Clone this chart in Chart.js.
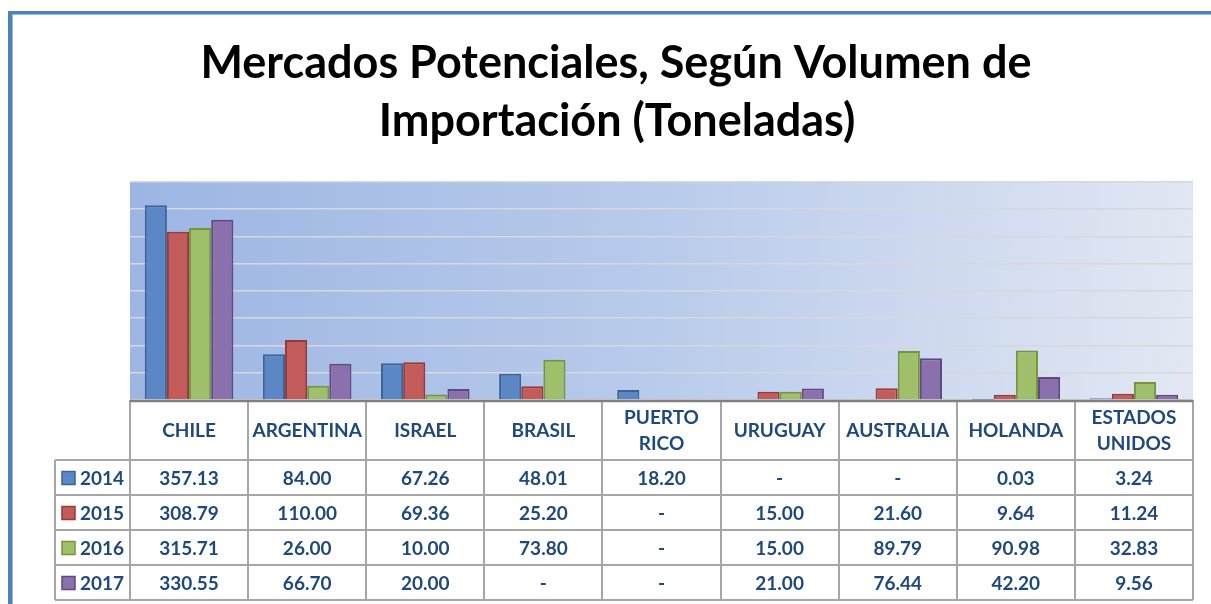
<!DOCTYPE html>
<html>
<head>
<meta charset="utf-8">
<script src="https://cdn.jsdelivr.net/npm/chart.js@4.4.1/dist/chart.umd.min.js"></script>
<style>
html,body{margin:0;padding:0;background:#fff;}
canvas{display:block;}
</style>
</head>
<body>
<canvas id="c" width="1211" height="604"></canvas>
<script>
const titleLines = ['Mercados Potenciales, Según Volumen de', 'Importación (Toneladas)'];
const categories = [['CHILE'], ['ARGENTINA'], ['ISRAEL'], ['BRASIL'], ['PUERTO', 'RICO'], ['URUGUAY'], ['AUSTRALIA'], ['HOLANDA'], ['ESTADOS', 'UNIDOS']];
const seriesNames = ['2014', '2015', '2016', '2017'];
const v2014 = [357.13, 84.00, 67.26, 48.01, 18.20, null, null, 0.03, 3.24];
const v2015 = [308.79, 110.00, 69.36, 25.20, null, 15.00, 21.60, 9.64, 11.24];
const v2016 = [315.71, 26.00, 10.00, 73.80, null, 15.00, 89.79, 90.98, 32.83];
const v2017 = [330.55, 66.70, 20.00, null, null, 21.00, 76.44, 42.20, 9.56];
const yMax = 400;
const yStep = 50;

const fills = ['#5b87c5', '#c25b5a', '#9fbf6a', '#8a70ac'];
const borders = ['#3a6598', '#983a38', '#76943e', '#5f4a80'];
const seriesValues = [v2014, v2015, v2016, v2017];
const textBlue = '#1f497d';
const FONT = 'Lato, "Open Sans", sans-serif';

const ROW_TOP = 400, HEADER_BOTTOM = 460, ROW_H = 35, LEG_LEFT = 55;

const decor = {
  id: 'decor',
  beforeDraw(chart) {
    const {ctx, chartArea: a} = chart;
    ctx.save();
    const g = ctx.createLinearGradient(a.left, a.top, a.right, a.top + 60);
    g.addColorStop(0, '#9cb5e3');
    g.addColorStop(0.5, '#b9cbeb');
    g.addColorStop(1, '#e2e7f3');
    ctx.fillStyle = g;
    ctx.fillRect(a.left, a.top, a.right - a.left, a.bottom - a.top);
    ctx.restore();
  },
  afterDraw(chart) {
    const {ctx, chartArea: a} = chart;
    const xs = chart.scales.x;
    ctx.save();
    // frame
    ctx.fillStyle = '#4f81bd';
    ctx.fillRect(8, 11, 1211, 3);
    ctx.fillRect(8, 11, 4, 604);
    ctx.fillStyle = '#9bb8df';
    ctx.fillRect(12, 14, 1211, 1);
    ctx.fillRect(12, 14, 1, 604);

    // title
    ctx.fillStyle = '#000';
    ctx.font = 'bold 45px ' + FONT;
    ctx.textAlign = 'center';
    ctx.textBaseline = 'alphabetic';
    ctx.fillText(titleLines[0], 616, 78);
    ctx.fillText(titleLines[1], 617, 136);

    // table geometry
    const n = categories.length;
    const step = xs.getPixelForValue(1) - xs.getPixelForValue(0);
    const left = a.left, right = a.right;
    const tableBottom = HEADER_BOTTOM + ROW_H * seriesNames.length;

    ctx.strokeStyle = '#a6a6a6';
    ctx.lineWidth = 2;
    ctx.beginPath();
    for (let i = 0; i <= n; i++) {
      const x = Math.round(xs.getPixelForValue(i) - step / 2);
      ctx.moveTo(x, ROW_TOP); ctx.lineTo(x, tableBottom);
    }
    ctx.moveTo(LEG_LEFT, HEADER_BOTTOM); ctx.lineTo(LEG_LEFT, tableBottom);
    for (let r = 0; r <= seriesNames.length; r++) {
      const y = HEADER_BOTTOM + r * ROW_H;
      ctx.moveTo(LEG_LEFT, y); ctx.lineTo(right, y);
    }
    ctx.stroke();

    // axis line
    ctx.strokeStyle = '#7f7f7f';
    ctx.lineWidth = 2.5;
    ctx.beginPath();
    ctx.moveTo(left, a.bottom + 1); ctx.lineTo(right, a.bottom + 1);
    ctx.stroke();

    // header text
    ctx.fillStyle = textBlue;
    ctx.font = 'bold 19px ' + FONT;
    ctx.textBaseline = 'middle';
    ctx.textAlign = 'center';
    const hc = 431;
    categories.forEach((lab, i) => {
      const x = xs.getPixelForValue(i);
      if (lab.length === 1) ctx.fillText(lab[0], x, hc);
      else { ctx.fillText(lab[0], x, hc - 13); ctx.fillText(lab[1], x, hc + 13); }
    });

    // rows
    seriesNames.forEach((name, r) => {
      const cy = HEADER_BOTTOM + r * ROW_H + ROW_H / 2 + 1;
      ctx.fillStyle = fills[r];
      ctx.fillRect(62, cy - 7, 13, 13);
      ctx.strokeStyle = borders[r];
      ctx.lineWidth = 1.5;
      ctx.strokeRect(62, cy - 7, 13, 13);
      ctx.fillStyle = textBlue;
      ctx.textAlign = 'left';
      ctx.fillText(name, 80, cy);
      ctx.textAlign = 'center';
      seriesValues[r].forEach((v, i) => {
        ctx.fillText(v == null ? '-' : v.toFixed(2), xs.getPixelForValue(i), cy);
      });
    });
    ctx.restore();
  }
};

new Chart(document.getElementById('c'), {
  type: 'bar',
  data: {
    labels: categories,
    datasets: seriesNames.map((s, k) => ({
      label: s,
      data: seriesValues[k],
      backgroundColor: fills[k],
      borderColor: borders[k],
      borderWidth: 2,
      categoryPercentage: 0.75,
      barPercentage: 1.0
    }))
  },
  options: {
    responsive: false,
    animation: false,
    devicePixelRatio: 1,
    layout: {padding: {left: 130, right: 18, top: 182, bottom: 204}},
    plugins: {legend: {display: false}, tooltip: {enabled: false}, title: {display: false}},
    scales: {
      x: {display: false},
      y: {
        display: true,
        min: 0, max: yMax,
        ticks: {display: false, stepSize: yStep},
        border: {display: false},
        grid: {drawTicks: false, color: '#d6d8dc', lineWidth: 1.6}
      }
    }
  },
  plugins: [decor]
});
</script>
</body>
</html>
